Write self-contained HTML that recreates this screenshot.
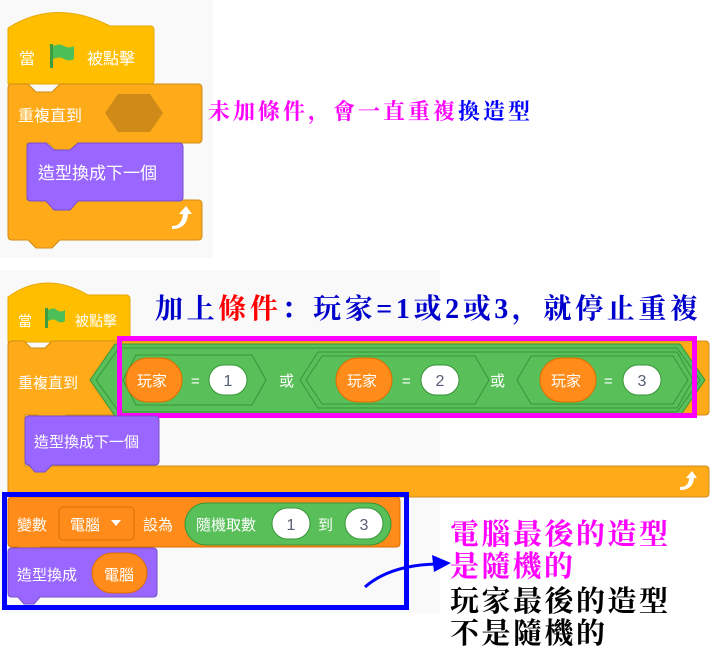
<!DOCTYPE html>
<html><head><meta charset="utf-8"><style>
html,body{margin:0;padding:0;background:#fff;}
svg{display:block}
.w{font-family:"Liberation Sans","Noto Sans CJK TC",sans-serif;fill:#fff;font-size:16px}
.k{font-family:"Liberation Serif","Noto Serif CJK SC","Noto Sans CJK TC",serif;font-weight:bold}
</style></head><body>
<svg width="722" height="657" viewBox="0 0 722 657" xmlns="http://www.w3.org/2000/svg">
<rect x="0" y="0" width="213" height="258" fill="#f9f9f9"/>
<rect x="0" y="270" width="440" height="343" fill="#f9f9f9"/>

<!-- TOP SCRIPT -->
<path d="M8 28 Q55 -2 110 26 L150 26 Q154 26 154 30 L154 80 Q154 84 150 84 L8 84 Z" fill="#ffbf00" stroke="#e6a800"/>
<text class="w" x="19" y="64">當</text>
<g transform="translate(50,44)"><rect x="0" y="0" width="3" height="24" fill="#3f9d3f"/><path d="M3 2 Q10 -1 14 2 Q19 5 24 2 L24 15 Q19 18 14 15 Q10 12 3 15 Z" fill="#4cbf56"/></g>
<text class="w" x="87" y="64">被點擊</text>
<path d="M12 84 L28 84 L36 92 L52 92 L60 84 L198 84 Q202 84 202 88 L202 139 Q202 143 198 143 L80 143 L72 150 L56 150 L48 143 L27 143 L27 200 L198 200 Q202 200 202 204 L202 236 Q202 240 198 240 L60 240 L52 248 L36 248 L28 240 L12 240 Q8 240 8 236 L8 88 Q8 84 12 84 Z" fill="#ffab19" stroke="#cf8b17"/>
<text class="w" x="18" y="121">重複直到</text>
<polygon points="105,113 118,94 150,94 163,113 150,132 118,132" fill="#cf8b17"/>
<path d="M31 143 L46 143 L54 150 L70 150 L78 143 L179 143 Q183 143 183 147 L183 197 Q183 201 179 201 L78 201 L70 210 L54 210 L46 201 L31 201 Q27 201 27 197 L27 147 Q27 143 31 143 Z" fill="#9966ff" stroke="#774dcb"/>
<text class="w" x="38" y="179" style="font-size:17px">造型換成下一個</text>
<path d="M172 226 Q182 226 183 214 L179 214 L186 206 L192 214 L188 214 Q187 229 172 229 Z" fill="#fff"/>
<text class="k" x="208" y="119" font-size="22" fill="#ff00ff" textLength="322" lengthAdjust="spacing">未加條件，會一直重複<tspan fill="#0000ff">換造型</tspan></text>

<!-- SECOND SCRIPT -->
<path d="M8 297 Q45 270 88 295 L126 295 Q130 295 130 299 L130 338 Q130 342 126 342 L8 342 Z" fill="#ffbf00" stroke="#e6a800"/>
<text class="w" x="18" y="326" style="font-size:14px">當</text>
<g transform="translate(45,308)"><rect x="0" y="0" width="3" height="20" fill="#3f9d3f"/><path d="M3 2 Q9 -1 12 2 Q16 5 20 2 L20 13 Q16 16 12 13 Q9 10 3 13 Z" fill="#4cbf56"/></g>
<text class="w" x="75" y="326" style="font-size:14px">被點擊</text>
<path d="M12 341 L24 341 L31 348 L45 348 L52 341 L705 341 Q709 341 709 345 L709 411 Q709 415 705 415 L66 415 L59 422 L45 422 L38 415 L25 415 L25 466 L705 466 Q709 466 709 470 L709 493 Q709 497 705 497 L12 497 Q8 497 8 493 L8 345 Q8 341 12 341 Z" fill="#ffab19" stroke="#cf8b17"/>
<text class="w" x="18" y="388" style="font-size:15px">重複直到</text>
<polygon points="90,380 115,344 680,344 705,380 680,416 115,416" fill="#59c059" stroke="#389438"/>
<polygon points="96,380 119,348 677,348 700,380 677,412 119,412" fill="none" stroke="#389438"/>
<polygon points="123,380 136,355 180,355 190,355 252,355 266,380 252,405 136,405" fill="none" stroke="#389438"/>
<polygon points="300,380 318,352 677,352 693,380 677,408 318,408" fill="none" stroke="#389438"/>
<polygon points="306,380 322,356 475,356 489,380 475,404 322,404" fill="none" stroke="#389438"/>
<polygon points="517,380 531,356 673,356 688,380 673,404 531,404" fill="none" stroke="#389438"/>
<rect x="126" y="358" width="56" height="44" rx="22" fill="#ff8c1a" stroke="#db6e00"/>
<text class="w" x="137" y="386" style="font-size:15px">玩家</text>
<text class="w" x="191" y="386" style="font-size:15px">=</text>
<rect x="209" y="365" width="38" height="30" rx="15" fill="#fff" stroke="#389438"/>
<text x="228" y="386" text-anchor="middle" font-family="Liberation Sans" font-size="16" fill="#575e75">1</text>
<text class="w" x="279" y="386" style="font-size:15px">或</text>
<rect x="336" y="358" width="56" height="44" rx="22" fill="#ff8c1a" stroke="#db6e00"/>
<text class="w" x="347" y="386" style="font-size:15px">玩家</text>
<text class="w" x="402" y="386" style="font-size:15px">=</text>
<rect x="421" y="365" width="38" height="30" rx="15" fill="#fff" stroke="#389438"/>
<text x="440" y="386" text-anchor="middle" font-family="Liberation Sans" font-size="16" fill="#575e75">2</text>
<text class="w" x="490" y="386" style="font-size:15px">或</text>
<rect x="540" y="358" width="56" height="44" rx="22" fill="#ff8c1a" stroke="#db6e00"/>
<text class="w" x="551" y="386" style="font-size:15px">玩家</text>
<text class="w" x="604" y="386" style="font-size:15px">=</text>
<rect x="623" y="365" width="38" height="30" rx="15" fill="#fff" stroke="#389438"/>
<text x="642" y="386" text-anchor="middle" font-family="Liberation Sans" font-size="16" fill="#575e75">3</text>
<rect x="119.5" y="338.5" width="575" height="77" fill="none" stroke="#ff00ff" stroke-width="5"/>
<path d="M29 416 L155 416 Q159 416 159 420 L159 461 Q159 465 155 465 L52 465 L45 472 L35 472 L29 465 Q25 465 25 461 L25 420 Q25 416 29 416 Z" fill="#9966ff" stroke="#774dcb"/>
<text class="w" x="34" y="447" style="font-size:15px">造型換成下一個</text>
<path d="M680 487 Q689 487 689 478 L686 478 L692 471 L697 478 L694 478 Q693 490 680 490 Z" fill="#fff"/>
<text class="k" x="155" y="318" font-size="28" fill="#0000cc" textLength="543" lengthAdjust="spacing">加上<tspan fill="#ff0000">條件</tspan>：玩家=1或2或3，就停止重複</text>

<!-- set var -->
<path d="M12 497 L395 497 Q400 497 400 501 L400 543 Q400 547 396 547 L40 547 L34 553 L24 553 L18 547 L12 547 Q8 547 8 543 L8 501 Q8 497 12 497 Z" fill="#ff8c1a" stroke="#db6e00"/>
<text class="w" x="17" y="530" style="font-size:15px">變數</text>
<rect x="59" y="507" width="75" height="33" rx="4" fill="#ff8c1a" stroke="#db6e00"/>
<text class="w" x="70" y="530" style="font-size:15px">電腦</text>
<polygon points="111,520 121,520 116,526" fill="#fff"/>
<text class="w" x="143" y="530" style="font-size:15px">設為</text>
<rect x="185" y="503" width="206" height="42" rx="21" fill="#59c059" stroke="#389438"/>
<text class="w" x="196" y="530" style="font-size:15px">隨機取數</text>
<rect x="272" y="508" width="38" height="31" rx="15.5" fill="#fff" stroke="#389438"/>
<text x="291" y="530" text-anchor="middle" font-family="Liberation Sans" font-size="16" fill="#575e75">1</text>
<text class="w" x="318" y="530" style="font-size:15px">到</text>
<rect x="345" y="508" width="38" height="31" rx="15.5" fill="#fff" stroke="#389438"/>
<text x="364" y="530" text-anchor="middle" font-family="Liberation Sans" font-size="16" fill="#575e75">3</text>
<path d="M12 548 L153 548 Q157 548 157 552 L157 593 Q157 597 153 597 L40 597 L34 604 L24 604 L18 597 L12 597 Q8 597 8 593 L8 552 Q8 548 12 548 Z" fill="#9966ff" stroke="#774dcb"/>
<text class="w" x="17" y="580" style="font-size:15px">造型換成</text>
<rect x="92" y="553" width="55" height="40" rx="20" fill="#ff8c1a" stroke="#db6e00"/>
<text class="w" x="104" y="580" style="font-size:15px">電腦</text>
<rect x="4.5" y="494.5" width="402" height="113" fill="none" stroke="#0000ff" stroke-width="5"/>

<path d="M365 587 Q390 565 437 564" fill="none" stroke="#0000ff" stroke-width="3"/>
<polygon points="451,563 432,555 434,572" fill="#0000ff"/>
<g class="k" font-size="29">
<text x="450" y="544" fill="#ff00ff" textLength="218" lengthAdjust="spacing">電腦最後的造型</text>
<text x="450" y="576" fill="#ff00ff" textLength="123" lengthAdjust="spacing">是隨機的</text>
<text x="450" y="611" fill="#000" textLength="218" lengthAdjust="spacing">玩家最後的造型</text>
<text x="450" y="643" fill="#000" textLength="155" lengthAdjust="spacing">不是隨機的</text>
</g>
</svg>
</body></html>
